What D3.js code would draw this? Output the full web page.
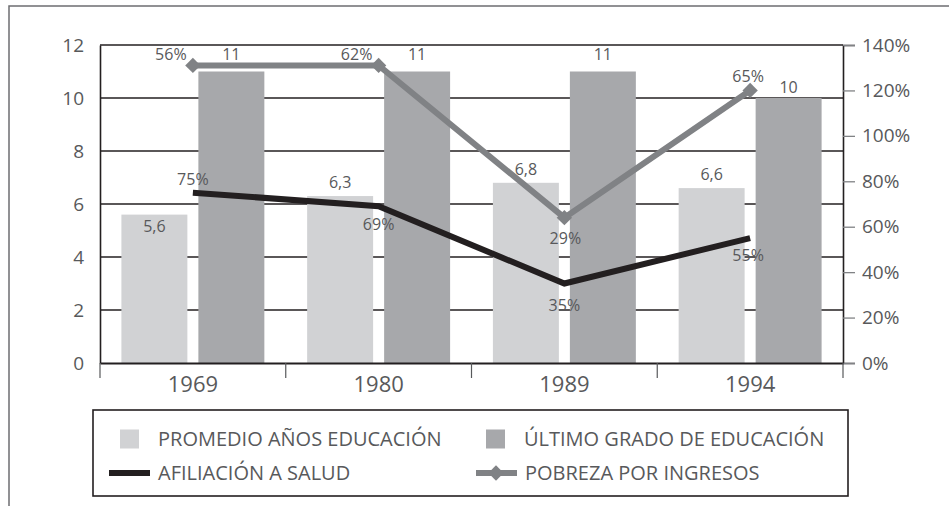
<!DOCTYPE html>
<html>
<head>
<meta charset="utf-8">
<script src="https://cdn.jsdelivr.net/npm/d3@7"></script>
<style>
  body { margin: 0; background: #fff; }
  svg text { font-family: "Open Sans", "Noto Sans", sans-serif; fill: #58595b; }
</style>
</head>
<body>
<div id="chart"></div>
<script>
// data
let years = ["1969", "1980", "1989", "1994"];
let promedioAnos = [5.6, 6.3, 6.8, 6.6];
let ultimoGrado = [11, 11, 11, 10];
let afiliacionSalud = [75, 69, 35, 55];
let pobrezaIngresos = [56, 62, 29, 65];   // stacked on top of afiliacion
let leftTicks = [0, 2, 4, 6, 8, 10, 12];
let rightTicks = [0, 20, 40, 60, 80, 100, 120, 140];

let svgWidth = 949;
let svgHeight = 506;

let margin = { top: 45, right: 106, bottom: 143, left: 100 };
let width = svgWidth - margin.left - margin.right;
let height = svgHeight - margin.top - margin.bottom;

let colors = {
  promedio: "#d1d2d4",
  ultimo: "#a7a8ab",
  afiliacion: "#231f20",
  pobreza: "#808285"
};

let svg = d3.select("#chart")
  .append("svg")
  .attr("width", svgWidth)
  .attr("height", svgHeight);

// outer frame
svg.append("rect")
  .attr("x", 9).attr("y", 6)
  .attr("width", 980).attr("height", 540)
  .attr("fill", "none")
  .attr("stroke", "#6d6e71")
  .attr("stroke-width", 1.5);

let chartGroup = svg.append("g")
  .attr("transform", `translate(${margin.left}, ${margin.top})`);

// scales
let xScale = d3.scaleBand().domain(years).range([0, width]);
let xSub = d3.scaleBand()
  .domain(["promedio", "ultimo"])
  .range([0, xScale.bandwidth()])
  .paddingInner(0.143)
  .paddingOuter(0.278);
let yLeft = d3.scaleLinear().domain([0, 12]).range([height, 0]);
let yRight = d3.scaleLinear().domain([0, 140]).range([height, 0]);

// gridlines
chartGroup.append("g")
  .selectAll("line")
  .data(leftTicks.slice(1))
  .enter()
  .append("line")
  .attr("x1", 0).attr("x2", width)
  .attr("y1", d => yLeft(d)).attr("y2", d => yLeft(d))
  .attr("stroke", "#231f20")
  .attr("stroke-width", 1.6);

// bars
let bars = [];
years.forEach((y, i) => {
  bars.push({ year: y, key: "promedio", value: promedioAnos[i] });
  bars.push({ year: y, key: "ultimo", value: ultimoGrado[i] });
});

chartGroup.append("g")
  .selectAll("rect")
  .data(bars)
  .enter()
  .append("rect")
  .attr("x", d => xScale(d.year) + xSub(d.key))
  .attr("y", d => yLeft(d.value))
  .attr("width", xSub.bandwidth())
  .attr("height", d => height - yLeft(d.value))
  .attr("fill", d => colors[d.key]);

// axes
let leftAxis = d3.axisLeft(yLeft).tickValues(leftTicks).tickSize(0).tickPadding(16)
  .tickFormat(d3.format("d"));
let yAxisG = chartGroup.append("g").call(leftAxis);
yAxisG.select(".domain").attr("stroke", "#231f20").attr("stroke-width", 1.6);
yAxisG.selectAll("text").style("font-size", "19px").attr("fill", "#58595b");

let rightAxis = d3.axisRight(yRight).tickValues(rightTicks).tickSize(12).tickPadding(7)
  .tickFormat(d => d + "%");
let yAxisR = chartGroup.append("g")
  .attr("transform", `translate(${width}, 0)`)
  .call(rightAxis);
yAxisR.select(".domain").attr("stroke", "#231f20").attr("stroke-width", 1.6);
yAxisR.selectAll(".tick line").attr("stroke", "#808285").attr("stroke-width", 1.3);
yAxisR.selectAll("text").style("font-size", "19px").attr("fill", "#58595b");

let bottomAxis = d3.axisBottom(xScale).tickSize(0).tickPadding(13);
let xAxisG = chartGroup.append("g")
  .attr("transform", `translate(0, ${height})`)
  .call(bottomAxis);
xAxisG.select(".domain").attr("stroke", "#231f20").attr("stroke-width", 1.8);
xAxisG.selectAll("text").style("font-size", "22px").attr("fill", "#58595b");

// category separators below axis
chartGroup.append("g")
  .selectAll("line")
  .data(years.concat(["end"]))
  .enter()
  .append("line")
  .attr("x1", (d, i) => i * xScale.step())
  .attr("x2", (d, i) => i * xScale.step())
  .attr("y1", height).attr("y2", height + 15)
  .attr("stroke", "#58595b")
  .attr("stroke-width", 1.2);

// bar labels
let promedioLabelDy = [17, -8, -8, -8];
chartGroup.append("g")
  .selectAll("text")
  .data(promedioAnos)
  .enter()
  .append("text")
  .attr("x", (d, i) => xScale(years[i]) + xSub("promedio") + xSub.bandwidth() / 2)
  .attr("y", (d, i) => yLeft(d) + promedioLabelDy[i])
  .attr("text-anchor", "middle")
  .style("font-size", "16px")
  .text(d => String(d).replace(".", ","));

let ultimoLabelDy = [-12, -12, -12, -5];
chartGroup.append("g")
  .selectAll("text")
  .data(ultimoGrado)
  .enter()
  .append("text")
  .attr("x", (d, i) => xScale(years[i]) + xSub("ultimo") + xSub.bandwidth() / 2)
  .attr("y", (d, i) => yLeft(d) + ultimoLabelDy[i])
  .attr("text-anchor", "middle")
  .style("font-size", "16px")
  .text(d => d);

// lines
let cx = d => xScale(d) + xScale.bandwidth() / 2;
let pobrezaStacked = pobrezaIngresos.map((d, i) => d + afiliacionSalud[i]);

let line = d3.line()
  .x(d => cx(d.year))
  .y(d => yRight(d.value));

chartGroup.append("path")
  .datum(years.map((y, i) => ({ year: y, value: afiliacionSalud[i] })))
  .attr("d", line)
  .attr("fill", "none")
  .attr("stroke", colors.afiliacion)
  .attr("stroke-width", 6);

let pobrezaPts = years.map((y, i) => ({ year: y, value: pobrezaStacked[i] }));
chartGroup.append("path")
  .datum(pobrezaPts)
  .attr("d", line)
  .attr("fill", "none")
  .attr("stroke", colors.pobreza)
  .attr("stroke-width", 6);

chartGroup.append("g")
  .selectAll("path")
  .data(pobrezaPts)
  .enter()
  .append("path")
  .attr("d", d3.symbol().type(d3.symbolDiamond2).size(150))
  .attr("transform", d => `translate(${cx(d.year)}, ${yRight(d.value)})`)
  .attr("fill", colors.pobreza);

// line labels
let afilLabelOff = [[0, -8], [0, 24], [0, 27], [-2, 23]];
chartGroup.append("g")
  .selectAll("text")
  .data(afiliacionSalud)
  .enter()
  .append("text")
  .attr("x", (d, i) => cx(years[i]) + afilLabelOff[i][0])
  .attr("y", (d, i) => yRight(d) + afilLabelOff[i][1])
  .attr("text-anchor", "middle")
  .style("font-size", "16px")
  .text(d => d + "%");

let pobLabelOff = [[-22, -5], [-22, -5], [1, 26], [-2, -8]];
chartGroup.append("g")
  .selectAll("text")
  .data(pobrezaIngresos)
  .enter()
  .append("text")
  .attr("x", (d, i) => cx(years[i]) + pobLabelOff[i][0])
  .attr("y", (d, i) => yRight(pobrezaStacked[i]) + pobLabelOff[i][1])
  .attr("text-anchor", "middle")
  .style("font-size", "16px")
  .text(d => d + "%");

// legend
let legend = svg.append("g");
legend.append("rect")
  .attr("x", 93).attr("y", 410)
  .attr("width", 755).attr("height", 86)
  .attr("fill", "none")
  .attr("stroke", "#231f20")
  .attr("stroke-width", 1.6);

let legendItems = [
  { label: "PROMEDIO AÑOS EDUCACIÓN", kind: "bar", color: colors.promedio, x: 120, y: 439 },
  { label: "ÚLTIMO GRADO DE EDUCACIÓN", kind: "bar", color: colors.ultimo, x: 486, y: 439 },
  { label: "AFILIACIÓN A SALUD", kind: "line", color: colors.afiliacion, x: 109, y: 473 },
  { label: "POBREZA POR INGRESOS", kind: "marker", color: colors.pobreza, x: 476, y: 473 }
];

legendItems.forEach(item => {
  let g = legend.append("g");
  if (item.kind === "bar") {
    g.append("rect")
      .attr("x", item.x).attr("y", item.y - 9.5)
      .attr("width", 19).attr("height", 19)
      .attr("fill", item.color);
  } else {
    g.append("line")
      .attr("x1", item.x).attr("x2", item.x + 41)
      .attr("y1", item.y).attr("y2", item.y)
      .attr("stroke", item.color)
      .attr("stroke-width", 6);
    if (item.kind === "marker") {
      g.append("path")
        .attr("d", d3.symbol().type(d3.symbolDiamond2).size(150))
        .attr("transform", `translate(${item.x + 20}, ${item.y})`)
        .attr("fill", item.color);
    }
  }
  g.append("text")
    .attr("x", item.kind === "bar" ? item.x + 38 : item.x + 49)
    .attr("y", item.y)
    .attr("dy", "0.35em")
    .style("font-size", "20px")
    .text(item.label);
});
</script>
</body>
</html>
